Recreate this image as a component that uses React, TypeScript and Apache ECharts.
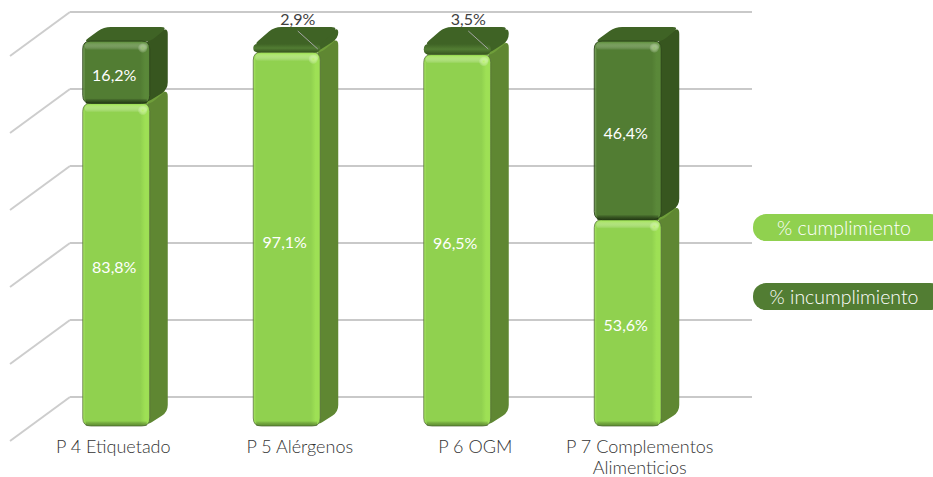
import React, { useEffect, useRef } from "react";
import * as echarts from "echarts";

const categories = ["P 4 Etiquetado", "P 5 Alérgenos", "P 6 OGM", "P 7 Complementos\nAlimenticios"];
const compliance = [83.8, 97.1, 96.5, 53.6];
const nonCompliance = [16.2, 2.9, 3.5, 46.4];
const complianceName = "% cumplimiento";
const nonComplianceName = "% incumplimiento";
const axisTicks = [0, 20, 40, 60, 80, 100];

// Right padding nudges each category label left of its band centre.
const labelPadding = [84, 52, 42, 54];

const FRONT_DX = -39; // bars stand forward of the back wall
const FRONT_DY = 29;
const BAR_W = 67;
const SIDE_DX = 18;
const SIDE_DY = -14;
const FLOOR_DX = -60;
const FLOOR_DY = 44;
const LABEL_FONT = "Lato, 'Open Sans', sans-serif";

type Pt = [number, number];

// Closed outline whose corners are rounded with quadratic curves.
function roundedPath(pts: Pt[], radius: number): string {
  const n = pts.length;
  let d = "";
  for (let i = 0; i < n; i++) {
    const p = pts[i];
    const prev = pts[(i + n - 1) % n];
    const next = pts[(i + 1) % n];
    const lenA = Math.hypot(prev[0] - p[0], prev[1] - p[1]) || 1;
    const lenB = Math.hypot(next[0] - p[0], next[1] - p[1]) || 1;
    const ra = Math.min(radius, lenA / 2);
    const rb = Math.min(radius, lenB / 2);
    const a: Pt = [p[0] + ((prev[0] - p[0]) * ra) / lenA, p[1] + ((prev[1] - p[1]) * ra) / lenA];
    const b: Pt = [p[0] + ((next[0] - p[0]) * rb) / lenB, p[1] + ((next[1] - p[1]) * rb) / lenB];
    d += `${i === 0 ? "M" : "L"}${a[0]} ${a[1]}Q${p[0]} ${p[1]} ${b[0]} ${b[1]}`;
  }
  return d + "Z";
}

const linear = (horizontal: boolean, stops: [number, string][]) => ({
  type: "linear",
  x: 0,
  y: 0,
  x2: horizontal ? 1 : 0,
  y2: horizontal ? 0 : 1,
  colorStops: stops.map(([offset, color]) => ({ offset, color })),
});

interface Palette {
  front: string;
  edge: string;
  glow: string;
  rim: string;
  side: string;
  top: string;
  sheen: string;
  border: string;
}

const lightPalette: Palette = {
  front: "#90d14f",
  edge: "#9ee055",
  glow: "rgba(185,245,105,0.95)",
  rim: "rgba(60,95,30,0.55)",
  side: "#5f8732",
  top: "#6f9e3a",
  sheen: "rgba(165,230,90,0.95)",
  border: "rgba(85,110,60,0.75)",
};

const darkPalette: Palette = {
  front: "#527d33",
  edge: "#5a8839",
  glow: "rgba(150,195,110,0.9)",
  rim: "rgba(25,45,12,0.75)",
  side: "#37561f",
  top: "#3f6325",
  sheen: "rgba(100,150,65,0.8)",
  border: "rgba(45,70,28,0.9)",
};

// One stacked block: back faces first, then the bevelled front and its label.
function makeBlock(api: any, palette: Palette, labelColor: string, thinLabelOutside: boolean) {
  const idx = api.value(0);
  const start = api.value(1);
  const end = api.value(2);
  const base = api.coord([idx, start]);
  const tip = api.coord([idx, end]);
  const x = base[0] + FRONT_DX - BAR_W / 2;
  const yBottom = base[1] + FRONT_DY;
  const yTop = tip[1] + FRONT_DY;
  const right = x + BAR_W;
  const h = yBottom - yTop;
  const r = Math.min(8, h / 2);
  const thin = h <= 14;

  const children: any[] = [
    {
      type: "path",
      shape: {
        pathData: roundedPath(
          [
            [right - 4, yTop],
            [right + SIDE_DX, yTop + SIDE_DY],
            [right + SIDE_DX, yBottom + SIDE_DY],
            [right - 4, yBottom],
          ],
          7,
        ),
      },
      style: { fill: thin ? palette.top : palette.side },
    },
    {
      type: "path",
      shape: {
        pathData: roundedPath(
          [
            [x, yTop + (thin ? 4 : 1)],
            [x - SIDE_DY * 1.5, yTop + SIDE_DY],
            [right + SIDE_DX, yTop + SIDE_DY],
            [right, yTop + (thin ? 4 : 1)],
          ],
          7,
        ),
      },
      style: { fill: palette.top },
    },
  ];

  if (thin) {
    // A very short block reads as a flat lozenge with a soft lit front lip.
    children.push({
      type: "path",
      shape: {
        pathData: roundedPath(
          [
            [x, yTop + 3],
            [right, yTop + 3],
            [right, yBottom],
            [x, yBottom],
          ],
          (h - 3) / 2,
        ),
      },
      style: {
        fill: linear(false, [
          [0, palette.top],
          [0.5, palette.front],
          [1, "#37561f"],
        ]),
      },
    });
  } else {
    children.push(
      {
        type: "path",
        shape: {
          pathData: roundedPath(
            [
              [x, yTop],
              [right, yTop],
              [right, yBottom],
              [x, yBottom],
            ],
            r,
          ),
        },
        style: {
          fill: linear(true, [
            [0, palette.sheen],
            [0.04, palette.front],
            [0.86, palette.front],
            [0.93, palette.edge],
            [0.98, palette.edge],
            [1, palette.front],
          ]),
          stroke: palette.border,
          lineWidth: 1,
        },
      },
      {
        type: "rect",
        shape: { x: x + 2, y: yTop + 1, width: BAR_W - 4, height: 8, r: 4 },
        style: {
          fill: linear(false, [
            [0, palette.sheen],
            [1, "rgba(255,255,255,0)"],
          ]),
        },
      },
      {
        type: "rect",
        shape: { x: x + 3, y: yBottom - 5, width: BAR_W - 6, height: 5 },
        style: {
          fill: linear(false, [
            [0, "rgba(0,0,0,0)"],
            [1, palette.rim],
          ]),
        },
      },
      {
        type: "circle",
        shape: { cx: right - 7, cy: yTop + 7, r: 5 },
        style: {
          fill: {
            type: "radial",
            x: 0.5,
            y: 0.5,
            r: 0.5,
            colorStops: [
              { offset: 0, color: palette.glow },
              { offset: 1, color: "rgba(255,255,255,0)" },
            ],
          },
        },
      },
    );
  }

  const value = end - start;
  const text = value.toFixed(1).replace(".", ",") + "%";
  const cx = x + BAR_W / 2;
  if (thinLabelOutside && value < 5) {
    // Narrow slices carry their figure above the bar, tied to it by a leader line.
    children.push(
      {
        type: "line",
        shape: { x1: cx + 11, y1: yTop - 10, x2: cx + 31, y2: yTop + 8 },
        style: { stroke: "#a6a6a6", lineWidth: 1 },
      },
      {
        type: "text",
        style: {
          text,
          x: cx + 11,
          y: yTop - 23,
          fill: "#404040",
          font: `16px ${LABEL_FONT}`,
          align: "center",
          verticalAlign: "middle",
        },
      },
    );
  } else {
    children.push({
      type: "text",
      style: {
        text,
        x: cx - 2,
        y: (yTop + yBottom) / 2 + 2,
        fill: labelColor,
        font: `16px ${LABEL_FONT}`,
        align: "center",
        verticalAlign: "middle",
      },
    });
  }
  return { type: "group", children };
}

const legendPill = (top: number, color: string, text: string) => ({
  type: "group",
  children: [
    {
      type: "rect",
      shape: { x: 753, y: top, width: 190, height: 27, r: 13 },
      style: { fill: color },
    },
    {
      type: "text",
      style: {
        text,
        x: 844,
        y: top + 13,
        fill: "#ffffff",
        font: `300 19.5px ${LABEL_FONT}`,
        align: "center",
        verticalAlign: "middle",
      },
    },
  ],
});

export default function App() {
  const ref = useRef<HTMLDivElement>(null);

  useEffect(() => {
    if (!ref.current) return;
    document.body.style.margin = "0";
    const chart = echarts.init(ref.current, undefined, { renderer: "svg" });
    chart.setOption({
      animation: false,
      backgroundColor: "#ffffff",
      grid: {
        left: 70,
        top: 12,
        width: 682,
        height: 385,
        containLabel: false,
        outerBoundsMode: "none",
      },
      xAxis: {
        type: "category",
        data: categories.map((value, i) => ({
          value,
          textStyle: { padding: [0, labelPadding[i], 0, 0] },
        })),
        axisLine: { show: false },
        axisTick: { show: false },
        axisLabel: {
          interval: 0,
          margin: 38,
          color: "#333333",
          fontFamily: LABEL_FONT,
          fontSize: 18,
          fontWeight: 300,
          lineHeight: 21,
          verticalAlign: "top",
        },
      },
      yAxis: {
        type: "value",
        min: 0,
        max: 100,
        interval: 20,
        axisLine: { show: false },
        axisTick: { show: false },
        axisLabel: { show: false },
        splitLine: { lineStyle: { color: "#c9c9c9", width: 2 } },
      },
      graphic: [
        legendPill(214, "#90d14f", complianceName),
        legendPill(283, "#527d33", nonComplianceName),
      ],
      series: [
        {
          type: "custom",
          name: "floor",
          silent: true,
          data: axisTicks.map((t) => [0, t]),
          encode: { x: 0, y: 1 },
          renderItem: (params: any, api: any) => {
            const y = api.coord([0, api.value(1)])[1];
            const x = params.coordSys.x;
            return {
              type: "line",
              shape: { x1: x, y1: y, x2: x + FLOOR_DX, y2: y + FLOOR_DY },
              style: { stroke: "#cdcdcd", lineWidth: 2 },
            };
          },
        },
        {
          type: "custom",
          name: complianceName,
          data: compliance.map((v, i) => [i, 0, v]),
          encode: { x: 0, y: [1, 2] },
          renderItem: (_: any, api: any) => makeBlock(api, lightPalette, "#ffffff", false),
        },
        {
          type: "custom",
          name: nonComplianceName,
          data: nonCompliance.map((v, i) => [i, compliance[i], compliance[i] + v]),
          encode: { x: 0, y: [1, 2] },
          renderItem: (_: any, api: any) => makeBlock(api, darkPalette, "#ffffff", true),
        },
      ],
    });
    return () => chart.dispose();
  }, []);

  return (
    <div
      ref={ref}
      style={{ position: "absolute", left: 0, top: 0, width: 933, height: 477, overflow: "hidden" }}
    />
  );
}
